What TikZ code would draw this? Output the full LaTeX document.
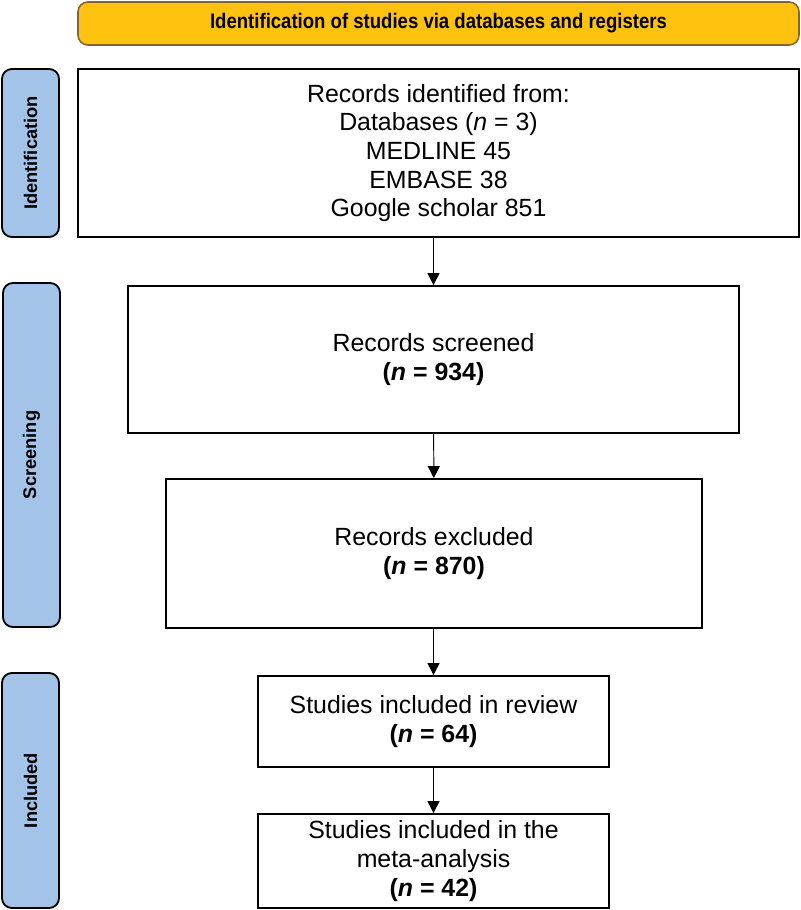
\documentclass[tikz,border=0pt]{standalone}
\usepackage{fontspec}
\setmainfont{Liberation Sans}
\usetikzlibrary{arrows.meta, positioning}
\definecolor{bannerfill}{HTML}{FFC20E}
\definecolor{bannerdraw}{HTML}{86652A}
\definecolor{phasefill}{HTML}{A3C4E8}

\begin{document}
\begin{tikzpicture}[every node/.style={font=\fontsize{17.7}{20.4}\selectfont},
    box/.style={draw, line width=1.3pt, align=center, inner sep=2pt},
    phase/.style={draw, line width=1.3pt, fill=phasefill, rounded corners=7pt, rotate=90,
      minimum height=1.425cm, font=\fontsize{13}{15}\selectfont\bfseries},
    arr/.style={-{Triangle[width=0.3cm, length=0.3cm]}, line width=0.7pt}]
  \useasboundingbox (0,0) rectangle (20,-22.75);
  \node[draw=bannerdraw, fill=bannerfill, line width=1.1pt, rounded corners=7pt,
    minimum width=18.025cm, minimum height=1.075cm, font=\fontsize{15}{17}\selectfont\bfseries]
    (banner) at (10.9625,-0.5875) {\scalebox{0.88}[1]{Identification of studies via databases and registers}};
  \node[phase, minimum width=4.2cm] (identbar) at (0.7625,-3.825) {Identification};
  \node[phase, minimum width=8.6cm] (screenbar) at (0.7875,-11.375) {Screening};
  \node[phase, minimum width=5.875cm] (inclbar) at (0.7625,-19.7625) {Included};
  \node[box, minimum width=18.025cm, minimum height=4.2cm] (records) at (10.9625,-3.825)
    {Records identified from:\\ Databases (\textit{n} = 3)\\ MEDLINE 45\\ EMBASE 38\\ Google scholar 851};
  \node[box, minimum width=15.275cm, minimum height=3.675cm] (screened) at (10.8375,-8.9875)
    {Records screened\\ \textbf{(\textit{n} = 934)}};
  \node[box, minimum width=13.4cm, minimum height=3.725cm] (excluded) at (10.85,-13.8375)
    {Records excluded\\ \textbf{(\textit{n} = 870)}};
  \node[box, minimum width=8.775cm, minimum height=2.275cm] (review) at (10.8375,-18.0375)
    {Studies included in review\\ \textbf{(\textit{n} = 64)}};
  \node[box, minimum width=8.775cm, minimum height=2.35cm] (meta) at (10.8375,-21.525)
    {Studies included in the\\ meta-analysis\\ \textbf{(\textit{n} = 42)}};
  \draw[arr] (records.south -| screened.north) -- (screened.north);
  \draw[arr] (screened) -- (excluded);
  \draw[arr] (excluded.south -| review.north) -- (review.north);
  \draw[arr] (review) -- (meta);
\end{tikzpicture}
\end{document}
